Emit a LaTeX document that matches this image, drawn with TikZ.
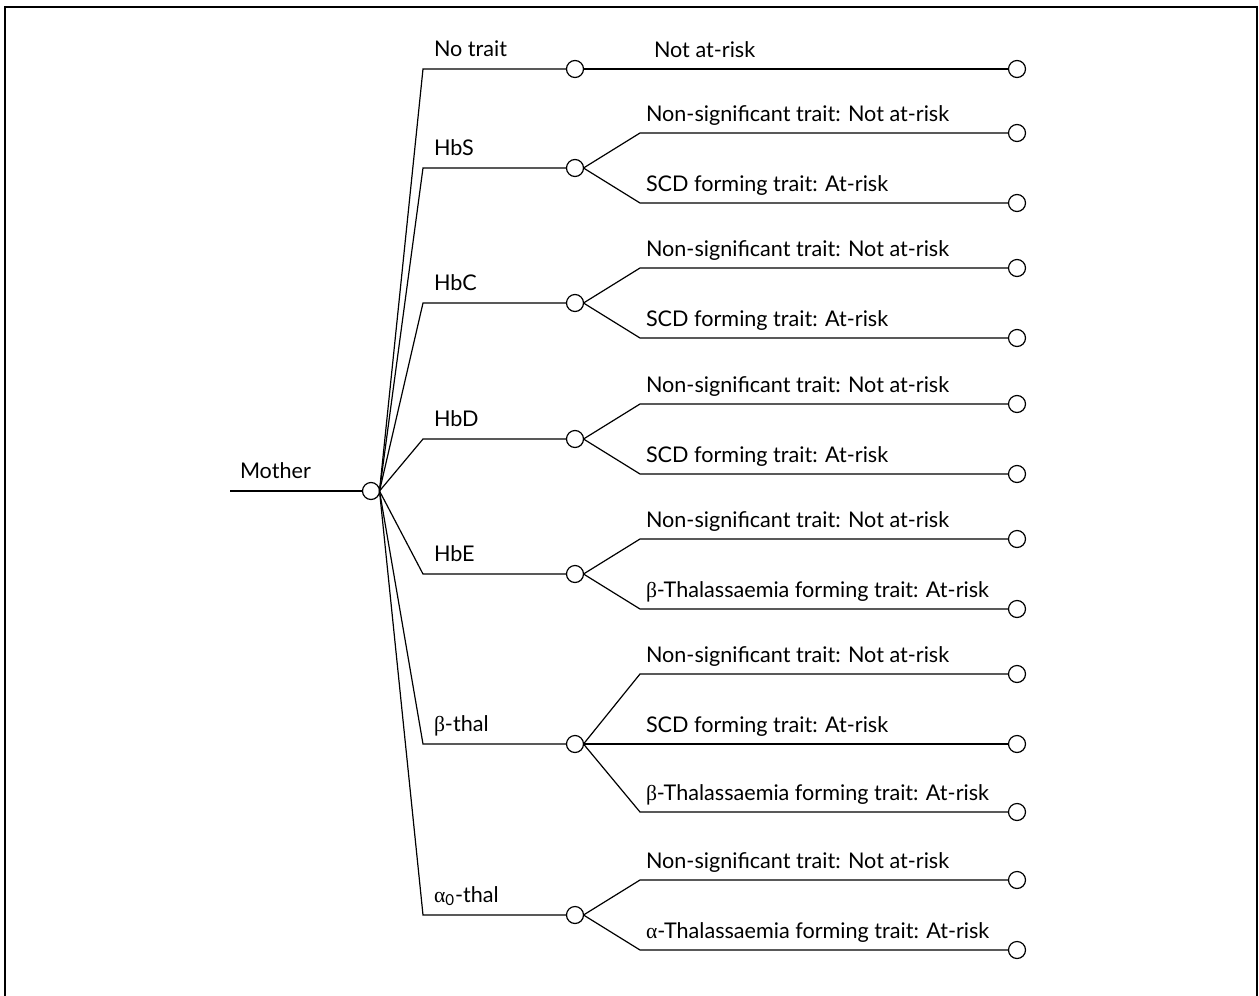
\documentclass[tikz,border=0pt]{standalone}
\usepackage{fontspec}
\setmainfont{Lato}
\newfontfamily\grk{Liberation Serif}
\usetikzlibrary{calc}
\newcommand{\gb}{{\grk β}}
\newcommand{\ga}{{\grk α}}
\begin{document}
\begin{tikzpicture}[x=0.5pt,y=-0.5pt,
  every node/.style={inner sep=0pt,outer sep=0pt},
  lbl/.style={anchor=base west,font=\fontsize{10.8}{13}\selectfont},
  dot/.style={circle,draw,fill=white,minimum size=8.5pt,line width=0.6pt},
  edge/.style={line width=0.6pt},
  frame/.style={line width=0.9pt}]
\useasboundingbox (0,0) rectangle (1259,996);

% open frame (top, left, right)
\draw[frame] (5,996) -- (5,7) -- (1257,7) -- (1257,996);

% column guides
\coordinate (mstart) at (230,491);
\coordinate (L1) at (423,0);
\coordinate (T1) at (434,0);
\coordinate (L2) at (640,0);
\coordinate (T2) at (646,0);

% chance nodes
\node[dot] (m) at (371,491) {};
\foreach \n/\y in {1/69,2/168,3/303,4/439,5/574,6/744,7/915}
  \node[dot] (a\n) at (575,\y) {};
\foreach \n/\y in {1/69,2/133,3/203,4/268,5/338,6/404,7/474,8/539,9/609,10/674,11/744,12/812,13/880,14/950}
  \node[dot] (e\n) at (1017,\y) {};

% root
\draw[edge] (mstart) -- (m.west);
\node[lbl] (tm) at (240,478) {Mother};

% first-level branches
\foreach \n in {1,...,7}
  \draw[edge] (m.east) -- (L1 |- a\n) -- (a\n.west);
\node[lbl] (t1) at ($(T1 |- a1)+(0,-13)$) {No trait};
\node[lbl] (t2) at ($(T1 |- a2)+(0,-13)$) {HbS};
\node[lbl] (t3) at ($(T1 |- a3)+(0,-13)$) {HbC};
\node[lbl] (t4) at ($(T1 |- a4)+(0,-13)$) {HbD};
\node[lbl] (t5) at ($(T1 |- a5)+(0,-13)$) {HbE};
\node[lbl] (t6) at ($(T1 |- a6)+(0,-13)$) {\gb-thal};
\node[lbl] (t7) at ($(T1 |- a7)+(0,-13)$) {\ga\textsubscript{0}-thal};

% second-level branches
\draw[edge] (a1.east) -- (e1.west);
\draw[edge] (a6.east) -- (e11.west);
\foreach \a/\e in {2/2,2/3,3/4,3/5,4/6,4/7,5/8,5/9,6/10,6/12,7/13,7/14}
  \draw[edge] (a\a.east) -- (L2 |- e\e) -- (e\e.west);

\node[lbl] (u1) at ($(T2 |- e1)+(0,-12)+(8,0)$) {Not at-risk};
\foreach \e in {2,4,6,8,10,13}
  \node[lbl] (u\e) at ($(T2 |- e\e)+(0,-12)$) {Non-significant trait: Not at-risk};
\foreach \e in {3,5,7,11}
  \node[lbl] (u\e) at ($(T2 |- e\e)+(0,-12)$) {SCD forming trait: At-risk};
\node[lbl] (u9) at ($(T2 |- e9)+(0,-12)$) {\gb-Thalassaemia forming trait: At-risk};
\node[lbl] (u12) at ($(T2 |- e12)+(0,-12)$) {\gb-Thalassaemia forming trait: At-risk};
\node[lbl] (u14) at ($(T2 |- e14)+(0,-12)$) {\ga-Thalassaemia forming trait: At-risk};
\end{tikzpicture}
\end{document}
